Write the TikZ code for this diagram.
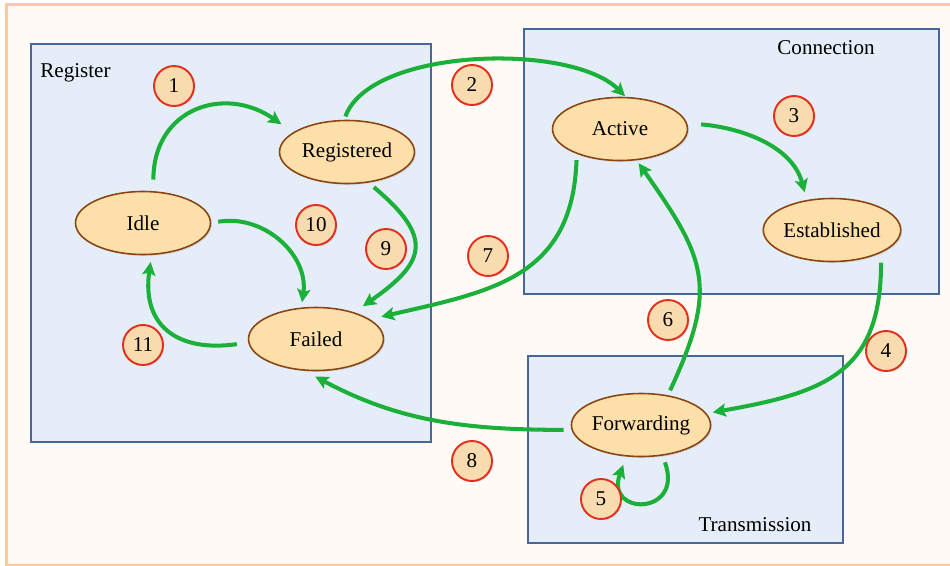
\documentclass[tikz,border=0pt]{standalone}
\usepackage{fontspec}
\setmainfont{Liberation Serif}
\usepackage{tikz}
\usetikzlibrary{arrows.meta, positioning, shapes.geometric, shadows}
\definecolor{frameOrange}{RGB}{253,203,154}
\definecolor{paperCream}{RGB}{255,250,246}
\definecolor{groupBlue}{RGB}{74,102,150}
\definecolor{groupFill}{RGB}{229,237,248}
\definecolor{stateFill}{RGB}{253,224,169}
\definecolor{stateBrown}{RGB}{139,69,19}
\definecolor{flowGreen}{RGB}{27,176,58}
\definecolor{badgeRed}{RGB}{226,48,30}
\definecolor{badgeFill}{RGB}{248,219,174}

\begin{document}
\begin{tikzpicture}[
    x=0.02cm, y=-0.02cm,
    font=\fontsize{12}{14}\selectfont,
    group/.style={rectangle, draw=groupBlue, line width=1pt, fill=groupFill, anchor=north west, inner sep=0pt, drop shadow={opacity=0.15, shadow xshift=0.6pt, shadow yshift=-0.6pt}},
    grouplabel/.style={inner sep=0pt},
    state/.style={ellipse, draw=stateBrown, line width=0.9pt, fill=stateFill, minimum width=2.7cm, minimum height=1.26cm, inner sep=0pt, drop shadow={opacity=0.2, shadow xshift=0.8pt, shadow yshift=-0.8pt}},
    badge/.style={circle, draw=badgeRed, line width=1.1pt, fill=badgeFill, minimum size=0.8cm, inner sep=0pt, drop shadow={opacity=0.2, shadow xshift=0.7pt, shadow yshift=-0.7pt}},
    flow/.style={-{Stealth[length=7.5pt, width=7.5pt, inset=1.5pt]}, line width=2.3pt, draw=flowGreen, shorten <=4pt, shorten >=3pt}
]
\useasboundingbox (0,0) rectangle (950,565);
\draw[frameOrange, line width=1.7pt, fill=paperCream] (6.5,4.5) rectangle (956,565);

\node[group, minimum width=8cm, minimum height=7.96cm] (register) at (30,43) {};
\node[group, minimum width=8.3cm, minimum height=5.3cm] (connection) at (523,28) {};
\node[group, minimum width=6.3cm, minimum height=3.74cm] (transmission) at (527,355) {};
\node[grouplabel, anchor=base west] (registerLabel) at (40,77) {Register};
\node[grouplabel, anchor=base] (connectionLabel) at (826,54) {Connection};
\node[grouplabel, anchor=base] (transmissionLabel) at (755,531) {Transmission};

\node[state] (idle) at (143,223) {Idle};
\node[state] (registered) at (347,152) {Registered};
\node[state] (active) at (620,129) {Active};
\node[state] (established) at (832,230) {Established};
\node[state] (failed) at (316,339) {Failed};
\node[state] (forwarding) at (641,425) {Forwarding};

\draw[flow, shorten <=6.5pt, shorten >=8pt] (idle.72) to[out=90, in=145, looseness=1.4] (registered.160);
\draw[flow, shorten <=2pt, shorten >=0.5pt] (registered.95) to[out=70, in=135, looseness=0.7] (active.80);
\draw[flow, shorten <=8pt, shorten >=4.5pt] (active.5) to[out=-5, in=105] (established.130);
\draw[flow, shorten <=5.5pt, shorten >=3.5pt] (established.-25) to[out=-90, in=10, looseness=1.3] (forwarding.10);
\draw[flow, shorten <=4pt, shorten >=5pt] (forwarding.-55) to[out=-70, in=-110, looseness=4.5] (forwarding.-115);
\draw[flow, shorten <=3pt, shorten >=2pt] (forwarding.48) to[out=65, in=-55, looseness=1.3] (active.-62);
\draw[flow, shorten <=3.5pt, shorten >=6.5pt] (active.-150) to[out=-92, in=13, looseness=1.2] (failed.20);
\draw[flow, shorten <=4.5pt, shorten >=7pt] (forwarding.184) to[out=180, in=-28] (failed.-110);
\draw[flow, shorten <=4pt, shorten >=6pt] (registered.-55) to[out=-40, in=35, looseness=1.7] (failed.35);
\draw[flow, shorten <=4pt, shorten >=3pt] (idle.0) to[out=10, in=82, looseness=1.1] (failed.115);
\draw[flow, shorten <=6.5pt, shorten >=4pt] (failed.183) to[out=188, in=-98, looseness=1.4] (idle.-75);

\node[badge] (b1) at (174,86) {1};
\node[badge] (b2) at (472,85) {2};
\node[badge] (b3) at (794,116) {3};
\node[badge] (b4) at (886,351) {4};
\node[badge] (b5) at (601,499) {5};
\node[badge] (b6) at (668,320) {6};
\node[badge] (b7) at (488,256) {7};
\node[badge] (b8) at (472,461) {8};
\node[badge] (b9) at (386,249) {9};
\node[badge] (b10) at (316,225) {10};
\node[badge] (b11) at (143,345) {11};
\end{tikzpicture}
\end{document}
